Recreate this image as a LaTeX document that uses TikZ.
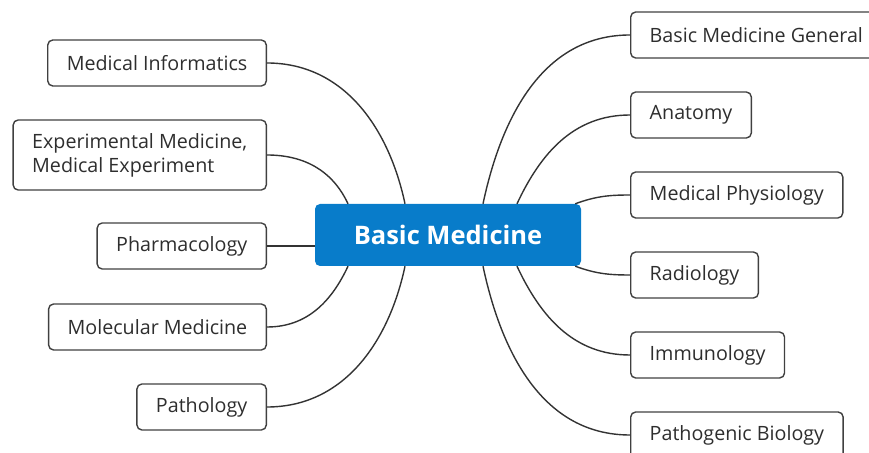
\documentclass[tikz,border=0pt]{standalone}
\usepackage{fontspec}
\setmainfont{Open Sans}
\usetikzlibrary{positioning}
\definecolor{hub}{RGB}{8,124,202}
\definecolor{rand}{RGB}{64,64,64}
\definecolor{linie}{RGB}{51,51,51}

\begin{document}
\begin{tikzpicture}[x=1pt,y=1pt,
    hubbox/.style={fill=hub,rounded corners=5pt,text=white,font=\fontsize{25.5}{30}\selectfont\bfseries,
        minimum width=266pt,minimum height=62pt,inner sep=0pt},
    topic/.style={draw=rand,line width=1.4pt,rounded corners=5pt,text=black!82,
        font=\fontsize{19.7}{24}\selectfont,minimum height=46pt,inner xsep=19pt,align=left},
    lft/.style={topic,anchor=east},
    rgt/.style={topic,anchor=west},
    con/.style={draw=linie,line width=1.4pt}]
    \useasboundingbox (0,0) rectangle (869,452);

    \node[hubbox] (bm) at (448,217) {Basic Medicine};

    \node[lft] (mi) at (267,389) {Medical Informatics};
    \node[lft,minimum height=70pt] (em) at (267,297) {Experimental Medicine,\\Medical Experiment};
    \node[lft] (ph) at (267,206) {Pharmacology};
    \node[lft] (mm) at (267,125) {Molecular Medicine};
    \node[lft] (pa) at (267,45) {Pathology};

    \node[rgt] (bg) at (630,417) {Basic Medicine General};
    \node[rgt] (an) at (630,337) {Anatomy};
    \node[rgt] (mp) at (630,257) {Medical Physiology};
    \node[rgt] (ra) at (630,177) {Radiology};
    \node[rgt] (im) at (630,97) {Immunology};
    \node[rgt] (pb) at (630,17) {Pathogenic Biology};

    \draw[con] (mi.east) to[out=0,in=102] ([xshift=-43pt]bm.north);
    \draw[con] (em.east) to[out=0,in=115] ([xshift=-100pt]bm.north);
    \draw[con] (ph.east) -- (ph.east -| bm.west);
    \draw[con] (mm.east) to[out=0,in=-115] ([xshift=-100pt]bm.south);
    \draw[con] (pa.east) to[out=0,in=-102] ([xshift=-43pt]bm.south);

    \draw[con] (bg.west) to[out=180,in=78] ([xshift=35pt]bm.north);
    \draw[con] (an.west) to[out=180,in=65] ([xshift=69pt]bm.north);
    \draw[con] (mp.west) to[out=180,in=20] ([xshift=-6pt]bm.north east);
    \draw[con] (ra.west) to[out=180,in=-20] ([xshift=-6pt]bm.south east);
    \draw[con] (im.west) to[out=180,in=-65] ([xshift=69pt]bm.south);
    \draw[con] (pb.west) to[out=180,in=-78] ([xshift=35pt]bm.south);
\end{tikzpicture}
\end{document}
